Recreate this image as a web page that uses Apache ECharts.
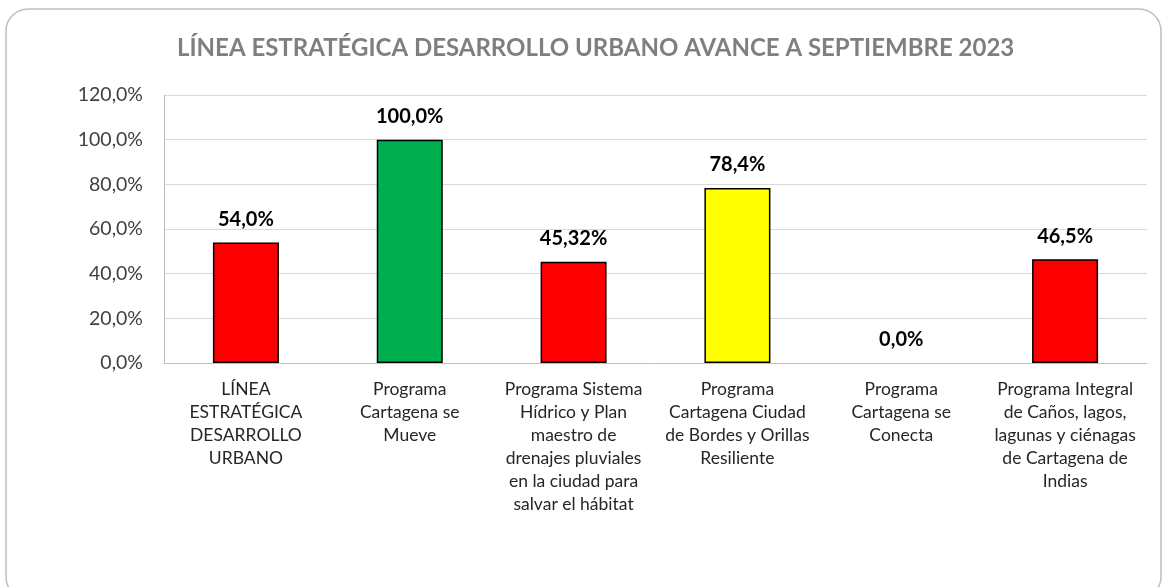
<!DOCTYPE html>
<html>
<head>
<meta charset="utf-8">
<script src="https://cdn.jsdelivr.net/npm/echarts@6/dist/echarts.min.js"></script>
<style>
  html, body { margin: 0; padding: 0; background: #fff; }
  #chart { width: 1167px; height: 587px; }
</style>
</head>
<body>
<div id="chart"></div>
<script>
// datos del gráfico
var categorias = [
  'LÍNEA ESTRATÉGICA DESARROLLO URBANO',
  'Programa Cartagena se Mueve',
  'Programa Sistema Hídrico y Plan maestro de drenajes pluviales en la ciudad para salvar el hábitat',
  'Programa Cartagena Ciudad de Bordes y Orillas Resiliente',
  'Programa Cartagena se Conecta',
  'Programa Integral de Caños, lagos, lagunas y ciénagas de Cartagena de Indias'
];
// etiquetas del eje x tal como se parten en la imagen
var etiquetasX = [
  'LÍNEA\nESTRATÉGICA\nDESARROLLO\nURBANO',
  'Programa\nCartagena se\nMueve',
  'Programa Sistema\nHídrico y Plan\nmaestro de\ndrenajes pluviales\nen la ciudad para\nsalvar el hábitat',
  'Programa\nCartagena Ciudad\nde Bordes y Orillas\nResiliente',
  'Programa\nCartagena se\nConecta',
  'Programa Integral\nde Caños, lagos,\nlagunas y ciénagas\nde Cartagena de\nIndias'
];
var avance = [54.0, 100.0, 45.32, 78.4, 0.0, 46.5];
var etiquetasValor = ['54,0%', '100,0%', '45,32%', '78,4%', '0,0%', '46,5%'];
var colores = ['#FF0000', '#00B050', '#FF0000', '#FFFF00', '#FF0000', '#FF0000'];
var ticksY = [0, 20, 40, 60, 80, 100, 120];

var fuente = 'Lato, "Open Sans", sans-serif';
var myChart = echarts.init(document.getElementById('chart'));
myChart.setOption({
  animation: false,
  graphic: [{
    type: 'rect',
    shape: { x: 6, y: 9, width: 1155, height: 590, r: 22 },
    style: { fill: 'none', stroke: '#bfbfbf', lineWidth: 1.5 },
    z: -1
  }],
  title: {
    text: 'LÍNEA ESTRATÉGICA DESARROLLO URBANO AVANCE A SEPTIEMBRE 2023',
    left: 172,
    top: 31,
    textStyle: { fontFamily: fuente, fontSize: 24, fontWeight: 'bold', color: '#7f7f7f' }
  },
  grid: { left: 164, right: 20, top: 95, bottom: 224 },
  xAxis: {
    type: 'category',
    data: categorias,
    axisLine: { lineStyle: { color: '#bfbfbf', width: 1 } },
    axisTick: { show: false },
    axisLabel: {
      interval: 0,
      margin: 15,
      fontFamily: fuente,
      fontSize: 17.5,
      lineHeight: 23,
      color: '#262626',
      formatter: function (v, i) { return etiquetasX[i]; }
    }
  },
  yAxis: {
    type: 'value',
    min: ticksY[0],
    max: ticksY[ticksY.length - 1],
    interval: 20,
    axisLine: { show: true, lineStyle: { color: '#bfbfbf' } },
    axisTick: { show: false },
    splitLine: { lineStyle: { color: '#d9d9d9' } },
    axisLabel: {
      margin: 21,
      fontFamily: fuente,
      fontSize: 19.5,
      color: '#404040',
      formatter: function (v) { return v.toFixed(1).replace('.', ',') + '%'; }
    }
  },
  series: [{
    type: 'bar',
    barWidth: 66,
    data: avance.map(function (v, i) {
      return {
        value: v,
        itemStyle: { color: colores[i], borderWidth: v === 0 ? 0 : 1.5 }
      };
    }),
    itemStyle: { borderColor: '#000', borderWidth: 1.5 },
    label: {
      show: true,
      position: 'top',
      distance: 13,
      fontFamily: fuente,
      fontSize: 20,
      fontWeight: 'bold',
      color: '#000',
      formatter: function (p) { return etiquetasValor[p.dataIndex]; }
    }
  }]
});
</script>
</body>
</html>
